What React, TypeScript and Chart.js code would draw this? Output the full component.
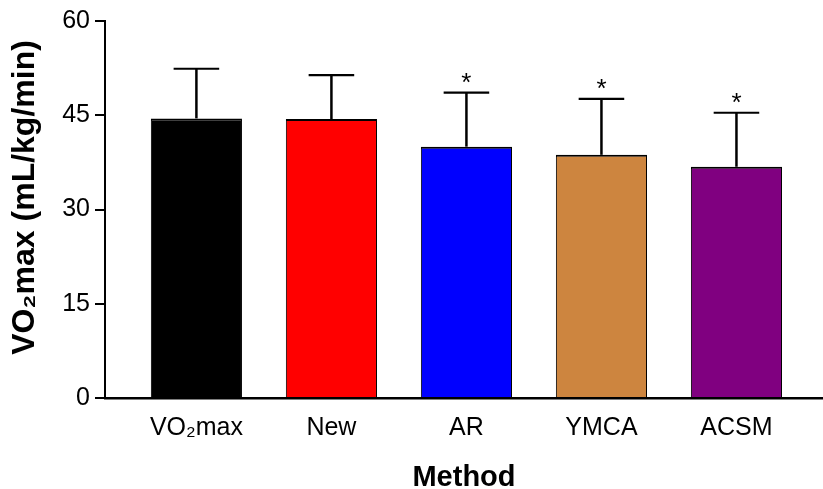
import React, { useEffect, useRef } from 'react';
import Chart from 'chart.js/auto';

const categories = ['VO₂max', 'New', 'AR', 'YMCA', 'ACSM'];
const means = [44.5, 44.4, 40.0, 38.7, 36.8];
const sds = [7.9, 7.0, 8.6, 8.9, 8.6];
const significant = [false, false, true, true, true];
const yTicks = [0, 15, 30, 45, 60];
const barColors = ['#000000', '#FF0000', '#0000FF', '#CD853F', '#800080'];
const yTitle = 'VO₂max (mL/kg/min)';

const FONT = 'Arial, "Liberation Sans", Helvetica, sans-serif';

const errorBarPlugin = {
  id: 'errorBars',
  afterDatasetsDraw(chart: any) {
    const { ctx } = chart;
    const y = chart.scales.y;
    const meta = chart.getDatasetMeta(0);
    ctx.save();
    ctx.strokeStyle = '#000';
    ctx.fillStyle = '#000';
    meta.data.forEach((bar: any, i: number) => {
      const top = y.getPixelForValue(means[i] + sds[i]);
      const base = bar.y;
      const half = bar.width / 4;
      ctx.lineWidth = 2.5;
      ctx.beginPath();
      ctx.moveTo(bar.x, base);
      ctx.lineTo(bar.x, top);
      ctx.stroke();
      ctx.lineWidth = 2.2;
      ctx.beginPath();
      ctx.moveTo(bar.x - half, top);
      ctx.lineTo(bar.x + half, top);
      ctx.stroke();
      if (significant[i]) {
        ctx.font = `26px ${FONT}`;
        ctx.textAlign = 'center';
        ctx.textBaseline = 'alphabetic';
        ctx.fillText('*', bar.x, top - 2);
      }
    });
    ctx.restore();
  },
};

const yTitlePlugin = {
  id: 'yTitle',
  afterDraw(chart: any) {
    const { ctx, chartArea } = chart;
    ctx.save();
    ctx.translate(25.5, (chartArea.top + chartArea.bottom) / 2 - 12);
    ctx.rotate(-Math.PI / 2);
    ctx.font = `bold 32px ${FONT}`;
    ctx.fillStyle = '#000';
    ctx.textAlign = 'center';
    ctx.textBaseline = 'middle';
    ctx.fillText(yTitle, 0, 0);
    ctx.restore();
  },
};

export default function App() {
  const ref = useRef<HTMLCanvasElement | null>(null);
  useEffect(() => {
    if (!ref.current) return;
    const chart = new Chart(ref.current, {
      type: 'bar',
      data: {
        datasets: [
          {
            data: means.map((m, i) => ({ x: i, y: m })),
            backgroundColor: barColors,
            borderColor: '#000',
            borderWidth: { top: 2, left: 1, right: 1, bottom: 0 },
            borderSkipped: 'start',
            categoryPercentage: 1,
            barPercentage: 0.675,
          },
        ],
      },
      options: {
        animation: false,
        responsive: false,
        maintainAspectRatio: false,
        layout: { padding: { top: 21, left: 0, right: 0, bottom: 0 } },
        plugins: { legend: { display: false }, tooltip: { enabled: false } },
        scales: {
          x: {
            type: 'linear',
            offset: false,
            min: -0.677,
            max: 4.641,
            afterBuildTicks: (s: any) => {
              s.ticks = categories.map((_, i) => ({ value: i }));
            },
            afterFit: (s: any) => {
              s.height = 91;
            },
            grid: { display: false, drawTicks: false, offset: false },
            border: { display: true, color: '#000', width: 2.5 },
            ticks: {
              callback: (v: any) => categories[v] ?? '',
              font: { family: FONT, size: 25 },
              color: '#000',
              padding: 15,
              autoSkip: false,
              maxRotation: 0,
            },
            title: {
              display: true,
              text: 'Method',
              font: { family: FONT, size: 29, weight: 'bold', lineHeight: 1 },
              color: '#000',
              padding: { top: 0, bottom: -3 },
            },
          },
          y: {
            min: 0,
            max: 60,
            afterBuildTicks: (s: any) => {
              s.ticks = yTicks.map((v) => ({ value: v }));
            },
            afterFit: (s: any) => {
              s.width = 105;
            },
            grid: {
              drawOnChartArea: false,
              drawTicks: true,
              tickLength: 10,
              color: '#000',
              lineWidth: 2,
            },
            border: { display: true, color: '#000', width: 2 },
            ticks: {
              font: { family: FONT, size: 25 },
              color: '#000',
              padding: 5,
            },
            title: { display: false },
          },
        },
      },
      plugins: [errorBarPlugin, yTitlePlugin],
    } as any);
    return () => chart.destroy();
  }, []);
  return (
    <div style={{ position: 'absolute', left: 0, top: 0, width: 823, height: 489 }}>
      <canvas ref={ref} width={823} height={489} style={{ display: 'block', width: 823, height: 489 }} />
    </div>
  );
}
